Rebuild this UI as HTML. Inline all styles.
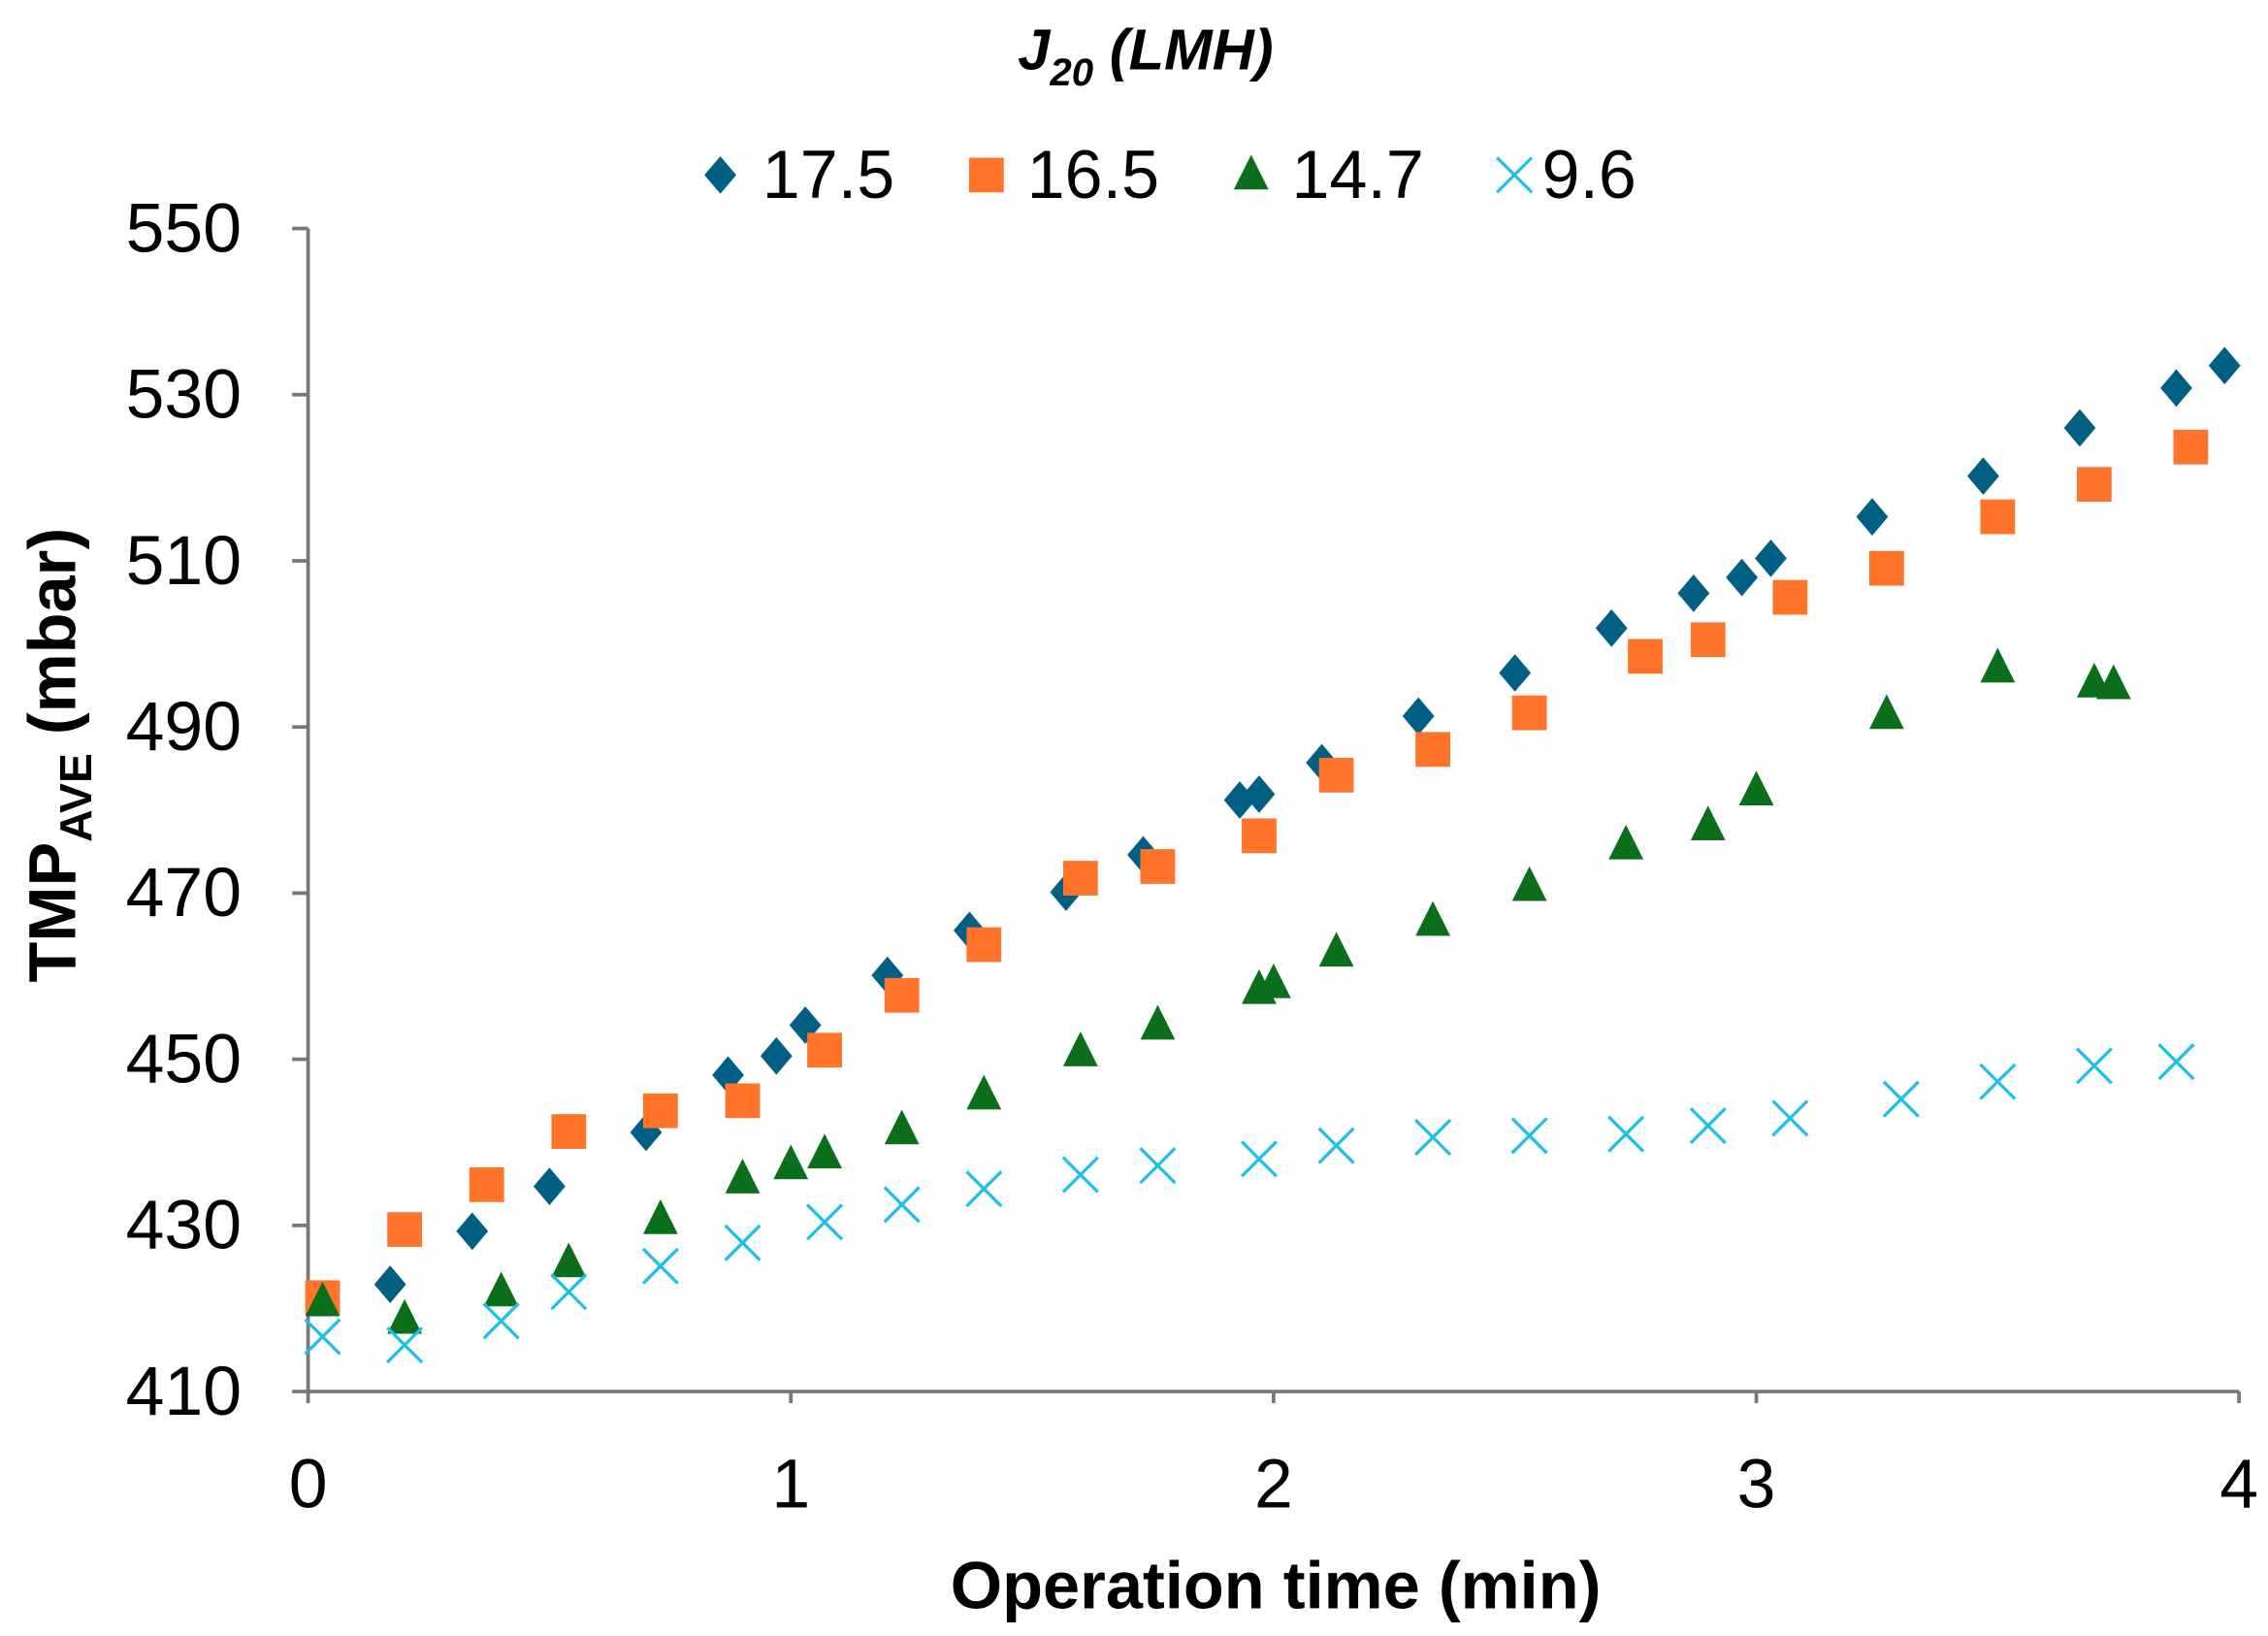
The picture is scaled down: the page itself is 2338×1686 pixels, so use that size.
<!DOCTYPE html>
<html><head><meta charset="utf-8"><style>
html,body{margin:0;padding:0;background:#fff;}
svg{display:block;font-family:"Liberation Sans",Arial,sans-serif;}
</style></head><body>
<svg id="chart" width="2338" height="1686" viewBox="0 0 1568 1131" preserveAspectRatio="none" xmlns="http://www.w3.org/2000/svg">
<text x="792" y="48" text-anchor="middle" font-size="40" font-weight="bold" font-style="italic">J<tspan font-size="27" dy="11">20</tspan><tspan dy="-11"> (LMH)</tspan></text>
<g id="legend"></g>
<g id="axes"></g>
<g id="marks"></g>
<text x="882" y="1112" text-anchor="middle" font-size="46" font-weight="bold">Operation time (min)</text>
<text transform="translate(52,522) rotate(-90)" text-anchor="middle" font-size="46" font-weight="bold">TMP<tspan font-size="31" dy="11">AVE</tspan><tspan dy="-11"> (mbar)</tspan></text>
</svg>
<script>
const NS="http://www.w3.org/2000/svg";
const xTicks=[0,1,2,3,4];
const yTicks=[410,430,450,470,490,510,530,550];
const seriesNames=["17.5","16.5","14.7","9.6"];
const x175=[0.17,0.34,0.50,0.70,0.87,0.97,1.03,1.20,1.37,1.57,1.73,1.93,1.97,2.10,2.30,2.50,2.70,2.87,2.97,3.03,3.24,3.47,3.67,3.87,3.97];
const y175=[422.9,429.3,434.7,441.2,448.1,450.4,454.1,460.1,465.5,470.1,474.6,481.2,481.9,485.7,491.3,496.5,501.9,506.1,508.0,510.3,515.3,520.2,526.0,530.8,533.5];
const x165=[0.03,0.20,0.37,0.54,0.73,0.90,1.07,1.23,1.40,1.60,1.76,1.97,2.13,2.33,2.53,2.77,2.90,3.07,3.27,3.50,3.70,3.90];
const y165=[421.3,429.5,434.9,441.3,443.8,445.0,451.1,457.7,463.8,471.8,473.2,476.9,484.2,487.3,491.7,498.5,500.5,505.6,509.1,515.3,519.2,523.7];
const x147=[0.03,0.20,0.40,0.54,0.73,0.90,1.00,1.07,1.23,1.40,1.60,1.76,1.97,2.00,2.13,2.33,2.53,2.73,2.90,3.00,3.27,3.50,3.70,3.74];
const y147=[420.8,418.7,422.0,425.5,430.7,435.6,437.3,438.6,441.5,445.7,450.9,454.1,458.4,459.1,462.9,466.6,470.8,475.8,478.1,482.3,491.5,497.1,495.3,495.1];
const x96=[0.03,0.20,0.40,0.54,0.73,0.90,1.07,1.23,1.40,1.60,1.76,1.97,2.13,2.33,2.53,2.73,2.90,3.07,3.30,3.50,3.70,3.87];
const y96=[416.6,415.6,418.5,422.0,425.1,427.9,430.4,432.5,434.4,436.1,437.2,438.0,439.6,440.6,440.8,441.0,442.0,442.9,445.2,447.3,449.2,449.7];

const X0=213,X1=1548,Y0=962,Y1=158;
function sx(v){return X0+(v-0)/(4-0)*(X1-X0);}
function sy(v){return Y0-(v-410)/(550-410)*(Y0-Y1);}
function mk(tag,attrs,parent){const e=document.createElementNS(NS,tag);for(const k in attrs)e.setAttribute(k,attrs[k]);parent.appendChild(e);return e;}
const colors=["#005f83","#ff7428","#0b6e1a","#1ec0ea"];
function marker(type,cx,cy,parent){
  let e;
  if(type===0) e=mk("polygon",{points:`${cx},${cy-13} ${cx+11},${cy} ${cx},${cy+13} ${cx-11},${cy}`,fill:colors[0]},parent);
  else if(type===1) e=mk("rect",{x:cx-12,y:cy-12,width:24,height:24,fill:colors[1]},parent);
  else if(type===2) e=mk("polygon",{points:`${cx},${cy-14} ${cx+12},${cy+10} ${cx-12},${cy+10}`,fill:colors[2]},parent);
  else e=mk("path",{d:`M${cx-12},${cy-12}L${cx+12},${cy+12}M${cx+12},${cy-12}L${cx-12},${cy+12}`,stroke:colors[3],"stroke-width":2.2,fill:"none"},parent);
  return e;
}
const axes=document.getElementById("axes");
let l=mk("line",{x1:X0,y1:Y1,x2:X0,y2:Y0,stroke:"#777","stroke-width":2.5},axes);


l=mk("line",{x1:X0,y1:Y0,x2:X1,y2:Y0,stroke:"#777","stroke-width":2.5},axes);


yTicks.forEach(v=>{
  const y=sy(v);
  mk("line",{x1:X0-11,y1:y,x2:X0,y2:y,stroke:"#777","stroke-width":2.5},axes);
  const t=mk("text",{x:167,y:y+16,"text-anchor":"end","font-size":48},axes);
  t.textContent=v;
  
  
});
xTicks.forEach(v=>{
  const x=sx(v);
  mk("line",{x1:x,y1:Y0,x2:x,y2:Y0+8,stroke:"#777","stroke-width":2.5},axes);
  const t=mk("text",{x:x,y:1042,"text-anchor":"middle","font-size":48},axes);
  t.textContent=v;
  
  
});
const marks=document.getElementById("marks");
const xs=[x175,x165,x147,x96], ys=[y175,y165,y147,y96];
xs.forEach((arr,s)=>{
  const g=mk("g",{},marks);
  
  
  arr.forEach((xv,i)=>{
    const e=marker(s,sx(xv),sy(ys[s][i]),g);
    
    
  });
});
const legend=document.getElementById("legend");
const legX=[498,682,865,1047], legTX=[527,710,893,1066];
seriesNames.forEach((n,s)=>{
  const g=mk("g",{},legend);
  
  
  marker(s,legX[s],121,g);
  const t=mk("text",{x:legTX[s],y:137,"font-size":47},g);
  t.textContent=n;
});
</script>
</body></html>
